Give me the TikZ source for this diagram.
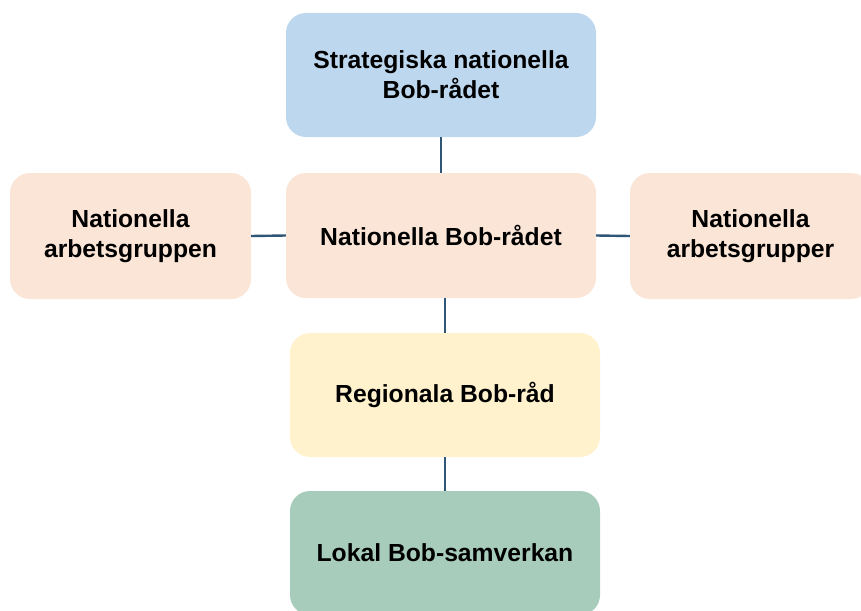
\documentclass[tikz,border=0pt]{standalone}
\usepackage{fontspec}
\setmainfont{Liberation Sans}
\definecolor{cblue}{HTML}{BDD7EE}
\definecolor{cpeach}{HTML}{FBE5D6}
\definecolor{cyellow}{HTML}{FFF2CC}
\definecolor{cgreen}{HTML}{A8CCBC}
\definecolor{cline}{HTML}{2F5577}
\begin{document}
\begin{tikzpicture}[x=1pt,y=-1pt,
  box/.style={rounded corners=20pt, inner sep=0pt, align=center,
    font=\fontsize{24.7}{30}\selectfont\bfseries, text=black},
  conn/.style={draw=cline, line width=2.4pt}]
\useasboundingbox (0,0) rectangle (861,610);
\node[box, fill=cblue, minimum width=310pt, minimum height=124pt] (top) at (441,75) {Strategiska nationella\\Bob-rådet};
\node[box, fill=cpeach, minimum width=310pt, minimum height=125pt] (mid) at (441,235.5) {Nationella Bob-rådet};
\node[box, fill=cpeach, minimum width=241pt, minimum height=126pt] (left) at (130.5,236) {Nationella\\arbetsgruppen};
\node[box, fill=cpeach, minimum width=241pt, minimum height=126pt] (right) at (750.5,236) {Nationella\\arbetsgrupper};
\node[box, fill=cyellow, minimum width=310pt, minimum height=124pt] (reg) at (445,395) {Regionala Bob-råd};
\node[box, fill=cgreen, minimum width=310pt, minimum height=124pt] (lok) at (445,553) {Lokal Bob-samverkan};
\draw[conn] (top.south) -- (mid.north);
\draw[conn] (reg.north) -- (reg.north |- mid.south);
\draw[conn] (reg.south) -- (lok.north);
\draw[conn] (left.east) -- (mid.west);
\draw[conn] (mid.east) -- (right.west);
\end{tikzpicture}
\end{document}
